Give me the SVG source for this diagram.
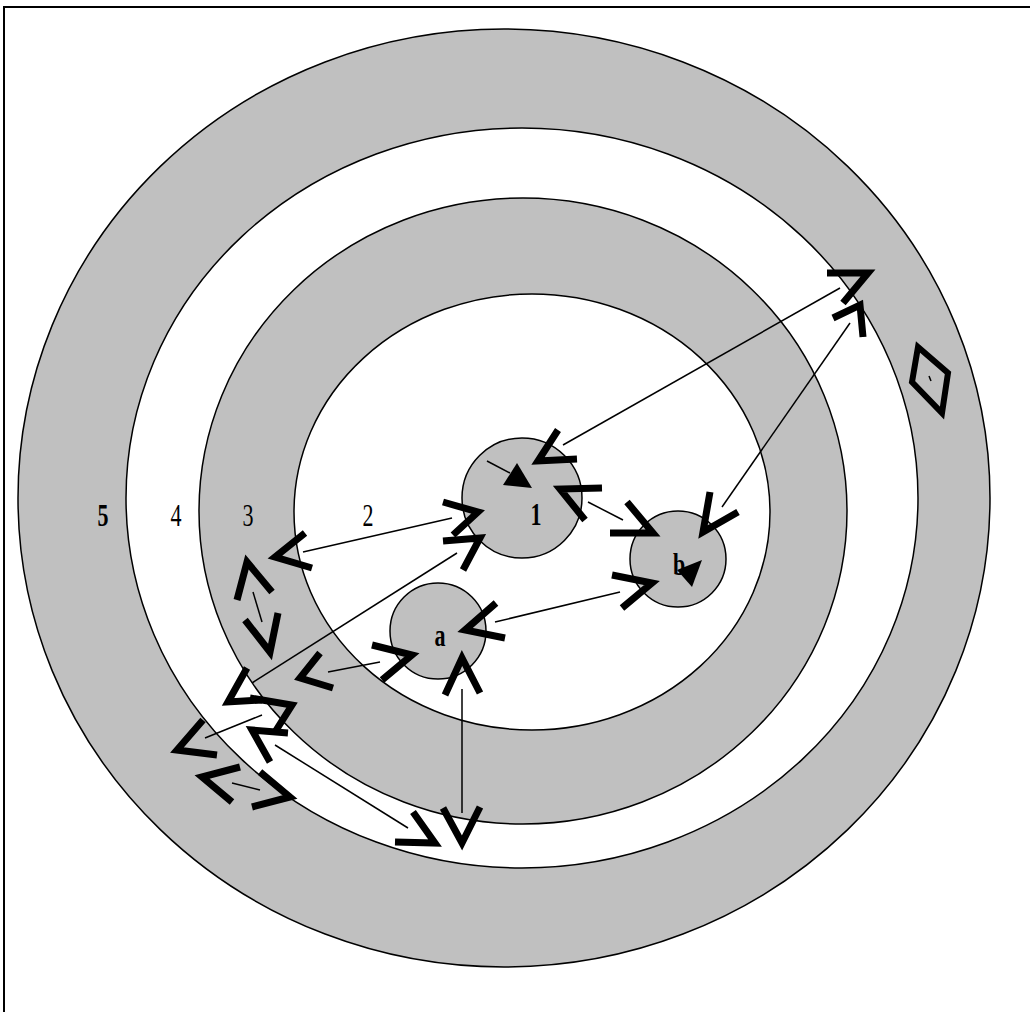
<svg xmlns="http://www.w3.org/2000/svg" width="1030" height="1012" viewBox="0 0 1030 1012">
<style>
.ring{stroke:#000;stroke-width:1.5}
.g{fill:#c0c0c0}
.w{fill:#fff}
.node{fill:#c0c0c0;stroke:#000;stroke-width:1.5}
.ah{fill:none;stroke:#000;stroke-width:7;stroke-linejoin:miter;stroke-linecap:butt;stroke-miterlimit:10}
.ln{fill:none;stroke:#000;stroke-width:1.5}
.lbl{font-family:"Liberation Serif","Times New Roman",serif;font-size:22px;fill:#000}
.b{font-weight:bold}
</style>
<rect x="0" y="0" width="1030" height="1012" fill="#fff"/>
<path d="M4,1012 V7 H1030" fill="none" stroke="#000" stroke-width="2"/>
<g id="zones">
<ellipse class="ring g" cx="504" cy="498" rx="486" ry="469"/>
<ellipse class="ring w" cx="522" cy="498" rx="396" ry="370"/>
<ellipse class="ring g" cx="523" cy="511" rx="324" ry="313"/>
<ellipse class="ring w" cx="532" cy="512" rx="238" ry="218"/>
</g>
<g id="labels">
<text class="lbl b" transform="translate(103,526) scale(1,1.4)" text-anchor="middle">5</text>
<text class="lbl" transform="translate(176,526) scale(1,1.4)" text-anchor="middle">4</text>
<text class="lbl" transform="translate(248,526) scale(1,1.4)" text-anchor="middle">3</text>
<text class="lbl" transform="translate(368,526) scale(1,1.4)" text-anchor="middle">2</text>
</g>
<g id="node-1">
<circle class="node" cx="522" cy="498" r="60"/>
<text class="lbl b" transform="translate(536,525) scale(1,1.4)" text-anchor="middle">1</text>
</g>
<g id="node-b">
<circle class="node" cx="678" cy="559" r="48"/>
<text class="lbl b" transform="translate(679,575) scale(1,1.4)" text-anchor="middle">b</text>
</g>
<g id="node-a">
<circle class="node" cx="438" cy="631" r="48"/>
<text class="lbl b" transform="translate(440,646) scale(1,1.4)" text-anchor="middle">a</text>
</g>
<g id="node-diamond">
<polygon points="918,347 948,373 942,413 912,382" fill="none" stroke="#000" stroke-width="6"/>
<line x1="929" y1="376" x2="931" y2="381" stroke="#000" stroke-width="1.5"/>
</g>
<g id="connectors">
<line class="ln" x1="563" y1="445" x2="840" y2="288"/>
<line class="ln" x1="850" y1="323" x2="722" y2="507"/>
<line class="ln" x1="588" y1="502" x2="623" y2="520"/>
<line class="ln" x1="620" y1="592" x2="495" y2="622"/>
<line class="ln" x1="462" y1="689" x2="462" y2="813"/>
<line class="ln" x1="275" y1="745" x2="408" y2="828"/>
<line class="ln" x1="205" y1="738" x2="262" y2="715"/>
<line class="ln" x1="232" y1="783" x2="260" y2="790"/>
<line class="ln" x1="253" y1="592" x2="262" y2="622"/>
<line class="ln" x1="303" y1="552" x2="452" y2="518"/>
<line class="ln" x1="457" y1="553" x2="252" y2="683"/>
<line class="ln" x1="328" y1="672" x2="380" y2="662"/>
<line class="ln" x1="487" y1="461" x2="510" y2="473"/>
<polygon points="517,463 532,488 503,485" fill="#000"/>
<polygon points="677,570 702,560 692,587" fill="#000"/>
<polyline class="ah" points="558,430 538,461 577,459"/>
<polyline class="ah" points="827,273 868,273 843,303"/>
<polyline class="ah" points="833,318 860,305 863,337"/>
<polyline class="ah" points="710,492 703,532 738,512"/>
<polyline class="ah" points="602,488 560,489 585,520"/>
<polyline class="ah" points="627,502 653,533 610,533"/>
<polyline class="ah" points="612,575 652,583 622,608"/>
<polyline class="ah" points="496,603 465,630 505,638"/>
<polyline class="ah" points="445,695 462,658 480,693"/>
<polyline class="ah" points="443,808 462,843 480,807"/>
<polyline class="ah" points="413,812 435,843 395,842"/>
<polyline class="ah" points="372,645 412,655 382,680"/>
<polyline class="ah" points="320,653 300,678 333,688"/>
<polyline class="ah" points="443,502 478,512 453,535"/>
<polyline class="ah" points="443,541 480,538 463,570"/>
<polyline class="ah" points="305,533 275,557 312,568"/>
<polyline class="ah" points="237,600 247,562 272,592"/>
<polyline class="ah" points="245,620 270,652 278,613"/>
<polyline class="ah" points="247,668 228,702 262,700"/>
<polyline class="ah" points="250,698 292,705 275,732"/>
<polyline class="ah" points="288,733 252,730 270,762"/>
<polyline class="ah" points="203,720 177,750 217,755"/>
<polyline class="ah" points="240,767 202,777 232,802"/>
<polyline class="ah" points="260,772 290,797 252,807"/>
</g>
</svg>
